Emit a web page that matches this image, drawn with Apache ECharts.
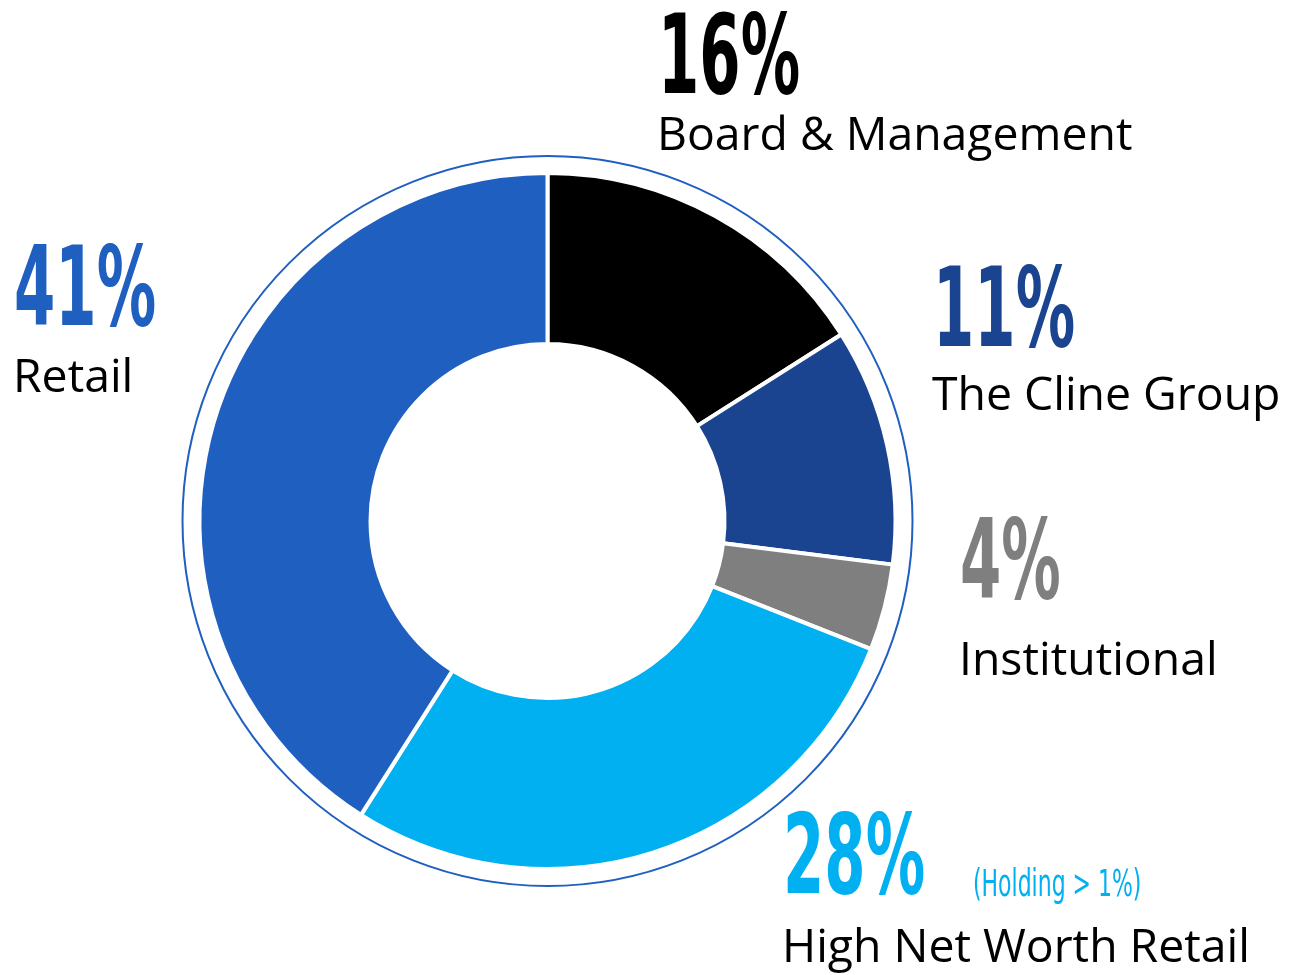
<!DOCTYPE html>
<html><head><meta charset="utf-8">
<script src="https://cdn.jsdelivr.net/npm/echarts@6/dist/echarts.min.js"></script>
<style>html,body{margin:0;padding:0;background:#fff}#c{width:1289px;height:975px}</style>
</head><body><div id="c"></div>
<script>
const categories = ['Board & Management', 'The Cline Group', 'Institutional', 'High Net Worth Retail', 'Retail'];
const values = [16, 11, 4, 28, 41];
const colors = ['#000000', '#1a4490', '#7f7f7f', '#00b0f0', '#1f5fc0'];
const notes = ['', '', '', '(Holding > 1%)', ''];

// label layout (anchor x, percent baseline y, name baseline y)
const labelPos = [
  [658, 95, 150],
  [933, 348, 410],
  [960, 600, 675],
  [783, 895, 962],
  [14, 327, 392]
];

const chart = echarts.init(document.getElementById('c'), null, {renderer: 'canvas'});
const graphics = [
  {type: 'circle', shape: {cx: 547.5, cy: 521, r: 365}, style: {fill: 'none', stroke: '#1f5fc0', lineWidth: 2}, silent: true}
];
categories.forEach((name, i) => {
  const [x, py, ny] = labelPos[i];
  graphics.push({
    type: 'text', x: x, y: py + 24, scaleX: 0.6, scaleY: 1,
    style: {text: values[i] + '%', fill: colors[i], font: 'bold 110px "DejaVu Sans Condensed"', textAlign: 'left', textVerticalAlign: 'bottom'}
  });
  graphics.push({
    type: 'text', x: x - 1, y: ny + 10, scaleX: 1.03,
    style: {text: name, fill: '#000', font: '45px "Open Sans"', textAlign: 'left', textVerticalAlign: 'bottom'}
  });
  if (notes[i]) {
    graphics.push({
      type: 'text', x: 973, y: py + 10, scaleX: 0.66,
      style: {text: notes[i], fill: colors[i], font: '37px "DejaVu Sans Condensed"', textAlign: 'left', textVerticalAlign: 'bottom'}
    });
  }
});

chart.setOption({
  animation: false,
  backgroundColor: '#fff',
  series: [{
    type: 'pie',
    center: [547.5, 521],
    radius: [177, 348],
    startAngle: 90,
    clockwise: true,
    silent: true,
    label: {show: false},
    labelLine: {show: false},
    itemStyle: {borderColor: '#fff', borderWidth: 4},
    data: categories.map((n, i) => ({name: n, value: values[i], itemStyle: {color: colors[i]}}))
  }],
  graphic: graphics
});
</script></body></html>
